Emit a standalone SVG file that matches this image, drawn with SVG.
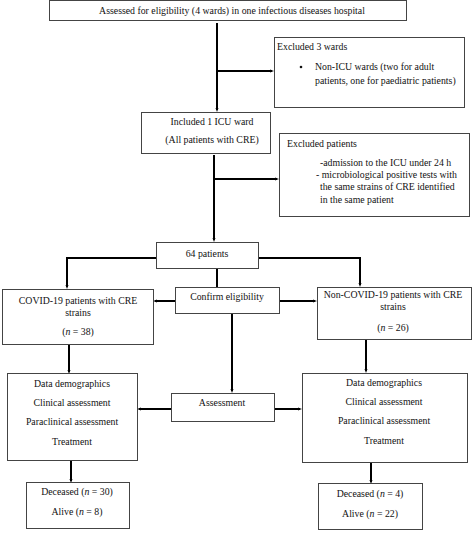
<svg xmlns="http://www.w3.org/2000/svg" width="474" height="535" viewBox="0 0 474 535">
<style>
.box{fill:#fff;stroke:#444;stroke-width:1}
.t{font-family:"Liberation Serif","Times New Roman",serif;font-size:9.8px;fill:#111}
.c{text-anchor:middle}
.ln{fill:none;stroke:#000;stroke-width:2}
.ar{fill:none;stroke:#000;stroke-width:2;marker-end:url(#ah)}
</style>
<defs>
<marker id="ah" markerWidth="4" markerHeight="4" refX="2" refY="2" orient="auto" markerUnits="userSpaceOnUse">
<path d="M0,0.5 L4,2 L0,3.5 z" fill="#000"/>
</marker>
</defs>
<rect width="474" height="535" fill="#fff"/>
<g id="connectors">
<path class="ar" d="M217,23 V110"/>
<path class="ar" d="M217,71 H272"/>
<path class="ar" d="M214,155 V240"/>
<path class="ar" d="M214,179 H277"/>
<path class="ln" d="M156,258 H67"/>
<path class="ar" d="M67,257 V287"/>
<path class="ln" d="M258,258 H360"/>
<path class="ar" d="M360,257 V285"/>
<path class="ln" d="M217,268 V287"/>
<path class="ar" d="M175,301 H155"/>
<path class="ar" d="M279,301 H315"/>
<path class="ar" d="M69,344 V372"/>
<path class="ar" d="M232,313 V391"/>
<path class="ar" d="M366,339 V371"/>
<path class="ar" d="M171,409 H139"/>
<path class="ar" d="M274,409 H300"/>
<path class="ar" d="M71,460 V481"/>
<path class="ar" d="M371,462 V482"/>
</g>
<g id="n1"><rect class="box" x="49.5" y="0.5" width="357" height="20"/><text class="t c" x="232" y="14">Assessed for eligibility (4 wards) in one infectious diseases hospital</text></g>
<g id="n2"><rect class="box" x="274.5" y="37.5" width="190" height="70"/><text class="t" x="277" y="50">Excluded 3 wards</text><circle cx="301" cy="67" r="1.3" fill="#111"/><text class="t" x="315" y="70">Non-ICU wards (two for adult</text><text class="t" x="315" y="84">patients, one for paediatric patients)</text></g>
<g id="n3"><rect class="box" x="141.5" y="112.5" width="129" height="41"/><text class="t c" x="212" y="125">Included 1 ICU ward</text><text class="t c" x="212" y="143">(All patients with CRE)</text></g>
<g id="n4"><rect class="box" x="279.5" y="133.5" width="190" height="83"/><text class="t" x="287" y="147">Excluded patients</text><text class="t" x="320" y="166">-admission to the ICU under 24 h</text><text class="t" x="316" y="178">- microbiological positive tests with</text><text class="t" x="320" y="190">the same strains of CRE identified</text><text class="t" x="320" y="203">in the same patient</text></g>
<g id="n5"><rect class="box" x="156.5" y="242.5" width="102" height="26"/><text class="t c" x="207" y="257">64 patients</text></g>
<g id="n6"><rect class="box" x="175.5" y="287.5" width="104" height="26"/><text class="t c" x="227" y="300">Confirm eligibility</text></g>
<g id="n7"><rect class="box" x="2.5" y="289.5" width="151" height="55"/><text class="t c" x="78" y="304">COVID-19 patients with CRE</text><text class="t c" x="78" y="316">strains</text><text class="t c" x="78" y="335">(<tspan font-style="italic">n</tspan> = 38)</text></g>
<g id="n8"><rect class="box" x="317.5" y="287.5" width="154" height="52"/><text class="t c" x="393" y="298">Non-COVID-19 patients with CRE</text><text class="t c" x="393" y="310">strains</text><text class="t c" x="393" y="331">(<tspan font-style="italic">n</tspan> = 26)</text></g>
<g id="n9"><rect class="box" x="7.5" y="373.5" width="130" height="87"/><text class="t c" x="72" y="387">Data demographics</text><text class="t c" x="72" y="406">Clinical assessment</text><text class="t c" x="72" y="425">Paraclinical assessment</text><text class="t c" x="72" y="445">Treatment</text></g>
<g id="n10"><rect class="box" x="171.5" y="393.5" width="103" height="28"/><text class="t c" x="222" y="406">Assessment</text></g>
<g id="n11"><rect class="box" x="302.5" y="373.5" width="165" height="89"/><text class="t c" x="384" y="386">Data demographics</text><text class="t c" x="384" y="405">Clinical assessment</text><text class="t c" x="384" y="424">Paraclinical assessment</text><text class="t c" x="384" y="444">Treatment</text></g>
<g id="n12"><rect class="box" x="26.5" y="482.5" width="103" height="46"/><text class="t c" x="77" y="495">Deceased (<tspan font-style="italic">n</tspan> = 30)</text><text class="t c" x="77" y="515">Alive (<tspan font-style="italic">n</tspan> = 8)</text></g>
<g id="n13"><rect class="box" x="318.5" y="483.5" width="104" height="46"/><text class="t c" x="370" y="497">Deceased (<tspan font-style="italic">n</tspan> = 4)</text><text class="t c" x="370" y="517">Alive (<tspan font-style="italic">n</tspan> = 22)</text></g>
</svg>
